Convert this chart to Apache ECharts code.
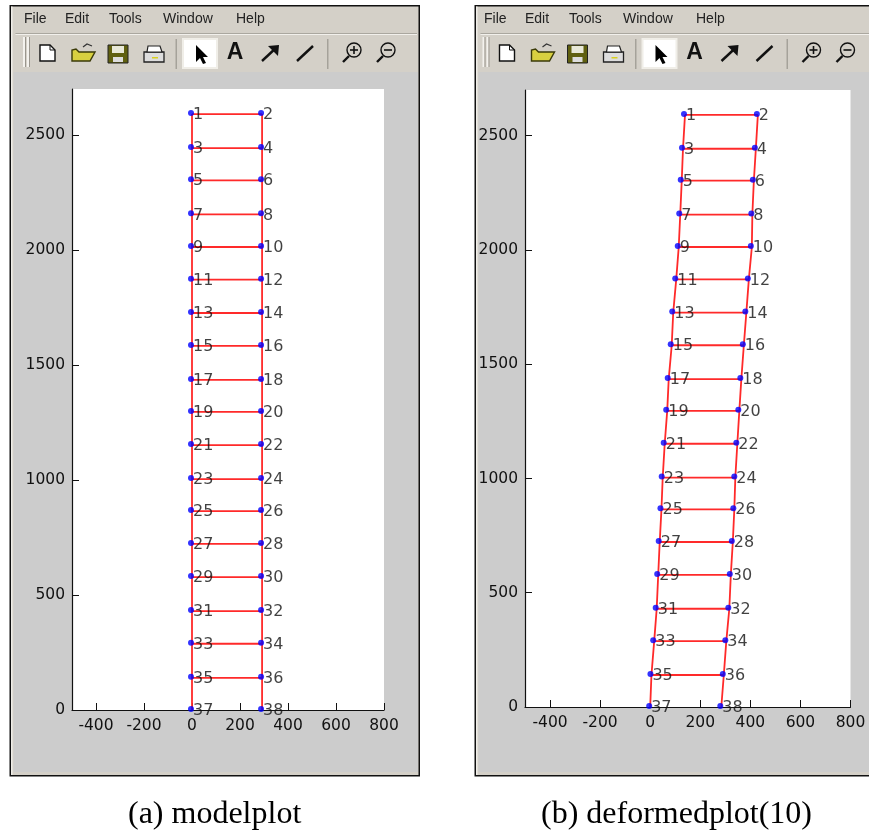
<!DOCTYPE html>
<html><head><meta charset="utf-8">
<style>html,body{margin:0;padding:0;background:#fff}#c{width:869px;height:835px}</style>
<script src="https://cdn.jsdelivr.net/npm/echarts@6/dist/echarts.min.js"></script>
</head><body><div id="c"></div>
<script>
const yTicks = [0,500,1000,1500,2000,2500];
const xTicks = [-400,-200,0,200,400,600,800];
const menuItems = ['File','Edit','Tools','Window','Help'];
const captionA = '(a) modelplot';
const captionB = '(b) deformedplot(10)';
const nodeY = [2591,2443,2303,2155,2013,1871,1726,1583,1435,1296,1152,1004,865,722,578,430,288,140,0];
const oddNodes = [1,3,5,7,9,11,13,15,17,19,21,23,25,27,29,31,33,35,37];
const evenNodes = [2,4,6,8,10,12,14,16,18,20,22,24,26,28,30,32,34,36,38];
const modelLeftX = [0,0,0,0,0,0,0,0,0,0,0,0,0,0,0,0,0,0,0];
const modelRightX = [292,292,292,292,292,292,292,292,292,292,292,292,292,292,292,292,292,292,292];
const defLeftX = [139,131,126,120,114,104,92,86,74,68,58,50,45,38,32,26,16,5,0];
const defRightX = [430,422,414,408,406,394,384,374,364,356,348,340,336,330,322,316,304,294,284];

const TXT = '#111', RED = '#ff2a2a', BLUE = '#0000ff', SANS = '"DejaVu Sans"';
const Z = -10;
const rect = (x,y,w,h,fill,extra) => ({type:'rect',z:Z,silent:true,shape:{x,y,width:w,height:h},style:Object.assign({fill},extra||{})});
const poly = (pts,fill,stroke,lw) => ({type:'polygon',z:Z,silent:true,shape:{points:pts},style:{fill:fill||'none',stroke:stroke||'none',lineWidth:lw||1}});
const pline = (pts,stroke,lw) => ({type:'polyline',z:Z,silent:true,shape:{points:pts},style:{fill:'none',stroke,lineWidth:lw||1}});
const circ = (cx,cy,r,stroke,lw) => ({type:'circle',z:Z,silent:true,shape:{cx,cy,r},style:{fill:'none',stroke,lineWidth:lw}});

function toolbar(dx){
  const k = [];
  k.push(rect(23,37,2,30,'#f4f2ee'),rect(25,37,1,30,'#9a968e'),rect(27,37,2,30,'#f4f2ee'),rect(29,37,1,30,'#9a968e'));
  k.push(poly([[40,45],[50,45],[55,50],[55,61],[40,61]],'#fff','#111',1.4));
  k.push(pline([[50,45],[50,50],[55,50]],'#111',1));
  k.push(poly([[72,50],[72,61],[90,61],[95,52],[79,52],[76,49]],'#d8d040','#3a3a08',1.4));
  k.push(pline([[83,47],[87,44],[92,46]],'#333',1.2));
  k.push(rect(108,45,20,18,'#606010',{stroke:'#222',lineWidth:1}),rect(112,46,12,7,'#e8e8d8'),rect(113,57,10,5,'#ddd'));
  k.push(rect(144,52,20,10,'#ddd',{stroke:'#222',lineWidth:1.3}),poly([[148,46],[160,46],[162,52],[147,52]],'#fff','#222',1.2),rect(152,57,6,1.5,'#d8d020'));
  k.push(rect(175.5,39,1.5,30,'#a5a29a'));
  k.push(rect(183,39,34,29,'#fff',{stroke:'#f0eee8',lineWidth:2}));
  k.push(poly([[196,45],[196,62],[200,58],[203,64],[206,63],[203,57],[208,57]],'#000'));
  k.push({type:'text',z:Z,silent:true,style:{text:'A',x:235,y:53,fill:'#111',font:'bold 23px "Liberation Sans"',align:'center',verticalAlign:'middle'}});
  k.push(pline([[262,61],[277,47]],'#111',2.4),poly([[268,46],[279,45],[278,56]],'#111'));
  k.push(pline([[297,61],[313,46]],'#111',2.4));
  k.push(rect(327,39,1.5,30,'#a5a29a'));
  const lens = (x,plus) => {
    k.push(circ(x+12,50,7,'#111',1.4),pline([[x+7,56],[x+1,62]],'#111',2.4),pline([[x+8,50],[x+16,50]],'#111',1.6));
    if (plus) k.push(pline([[x+12,46],[x+12,54]],'#111',1.6));
  };
  lens(342,true); lens(376,false);
  return {type:'group',x:dx,y:0,silent:true,children:k};
}
function menu(offsets){
  const xs = [24,65,109,163,236];
  return menuItems.map((t,i)=>({type:'text',z:Z,silent:true,style:{text:t,x:xs[i]+offsets,y:19,fill:'#222',font:'14px "Liberation Sans"',verticalAlign:'middle'}}));
}
function panel(x0,x1,dx,dm){
  const w = x1-x0;
  return [
    rect(x0,5,w,771.5,'#111'),
    rect(x0+1.5,6.5,w-3,768.5,'#d4d0c8'),
    rect(x0+1.5,6.5,1.5,768.5,'#efede8'),
    rect(x0+4,72,w-6,700,'#cccccc'),
    rect(x0+6,33,w-9,1,'#aaa79f'),
    rect(x0+6,34,w-9,1,'#f2f0ec'),
    ...menu(dm),
    toolbar(dx)
  ];
}
const pairs = (xs,ys) => xs.map((x,i)=>[x,ys[i]]);
function rungs(xl,xr,ys){
  const d = [];
  ys.forEach((y,i)=>{ if (y !== 0) d.push([xl[i],y],[xr[i],y],['-','-']); });
  return d;
}
function seriesFor(idx,xl,xr){
  const line = (name,data)=>({name,type:'line',xAxisIndex:idx,yAxisIndex:idx,data,symbol:'none',connectNulls:false,clip:false,animation:false,
    lineStyle:{color:RED,width:1.8},itemStyle:{color:RED},z:3});
  const nodes = (name,xs,labels)=>({name,type:'scatter',xAxisIndex:idx,yAxisIndex:idx,clip:false,animation:false,
    data:xs.map((x,i)=>({value:[x,nodeY[i]],label:{formatter:String(labels[i])}})),
    symbolSize:6,symbolOffset:[-1,-1],itemStyle:{color:BLUE},z:4,
    label:{show:true,position:'right',distance:-1,offset:[0,2],color:TXT,fontFamily:SANS,fontSize:16}});
  return [
    line('left rail',pairs(xl,nodeY)),
    line('right rail',pairs(xr,nodeY)),
    line('rungs',rungs(xl,xr,nodeY)),
    nodes('odd nodes',xl,oddNodes),
    nodes('even nodes',xr,evenNodes)
  ];
}
const plain = v => String(v);
const xAxis = i => ({gridIndex:i,type:'value',min:-500,max:800,interval:100,
  axisLine:{onZero:false,lineStyle:{color:'#111',width:1.2}},
  axisTick:{inside:true,length:7,customValues:xTicks,lineStyle:{color:'#111',width:1}},
  axisLabel:{customValues:xTicks,formatter:plain,margin:8,color:TXT,fontFamily:SANS,fontSize:15.5,showMinLabel:true,showMaxLabel:true},
  splitLine:{show:false}});
const yAxis = i => ({gridIndex:i,type:'value',min:0,max:2700,interval:100,
  axisLine:{show:true,onZero:false,lineStyle:{color:'#111',width:1.2}},
  axisTick:{show:true,inside:true,length:7,customValues:yTicks,lineStyle:{color:'#111',width:1}},
  axisLabel:{customValues:yTicks,formatter:plain,margin:7,color:TXT,fontFamily:SANS,fontSize:15.5},
  splitLine:{show:false}});

const chart = echarts.init(document.getElementById('c'),null,{renderer:'canvas',width:869,height:835});
chart.setOption({
  animation:false,
  backgroundColor:'#fff',
  grid:[
    {left:72,top:89,width:312,height:621,show:true,backgroundColor:'#fff',borderWidth:0,containLabel:false},
    {left:525,top:90,width:325.5,height:617,show:true,backgroundColor:'#fff',borderWidth:0,containLabel:false}
  ],
  xAxis:[xAxis(0),xAxis(1)],
  yAxis:[yAxis(0),yAxis(1)],
  series:[...seriesFor(0,modelLeftX,modelRightX),...seriesFor(1,defLeftX,defRightX)],
  graphic:{elements:[
    ...panel(9.5,420,0,0),
    ...panel(474.5,872,459.5,460),
    {type:'text',silent:true,style:{text:captionA,x:128,y:815,fill:'#000',font:'32px "Liberation Serif"',verticalAlign:'middle'}},
    {type:'text',silent:true,style:{text:captionB,x:541,y:815,fill:'#000',font:'32px "Liberation Serif"',verticalAlign:'middle'}}
  ]}
});
</script></body></html>
